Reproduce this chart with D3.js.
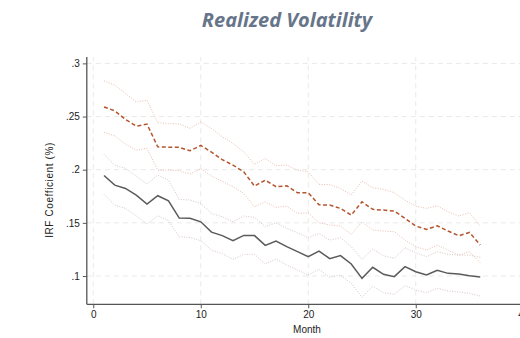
<!DOCTYPE html>
<html>
<head>
<meta charset="utf-8">
<script src="https://cdn.jsdelivr.net/npm/d3@7"></script>
<style>
  html, body { margin: 0; padding: 0; background: #fff; }
  svg { display: block; overflow: hidden; }
</style>
</head>
<body>
<div id="chart"></div>
<script>
// Meses do IRF (1..36)
const months = [1,2,3,4,5,6,7,8,9,10,11,12,13,14,15,16,17,18,19,20,21,22,23,24,25,26,27,28,29,30,31,32,33,34,35,36];

// Série principal (linha cinza sólida) e bandas
const grayMid = [0.1946,0.1855,0.1824,0.1761,0.1677,0.1755,0.1708,0.1545,0.1543,0.1510,0.1413,0.1380,0.1332,0.1382,0.1380,0.1288,0.1329,0.1276,0.1229,0.1182,0.1235,0.1163,0.1192,0.1113,0.0978,0.1082,0.1016,0.0994,0.1088,0.1040,0.1009,0.1053,0.1025,0.1020,0.1003,0.0991];
const grayUp  = [0.2144,0.2043,0.2012,0.1940,0.1865,0.1949,0.1902,0.1720,0.1715,0.1683,0.1589,0.1557,0.1510,0.1564,0.1552,0.1464,0.1501,0.1448,0.1407,0.1360,0.1401,0.1338,0.1360,0.1276,0.1157,0.1254,0.1191,0.1166,0.1266,0.1219,0.1182,0.1229,0.1204,0.1197,0.1197,0.1176];
const grayLo  = [0.1768,0.1667,0.1636,0.1567,0.1489,0.1567,0.1520,0.1369,0.1363,0.1332,0.1244,0.1210,0.1157,0.1204,0.1204,0.1113,0.1160,0.1103,0.1056,0.1009,0.1063,0.0988,0.1009,0.0931,0.0800,0.0906,0.0843,0.0828,0.0909,0.0868,0.0843,0.0884,0.0859,0.0850,0.0837,0.0812];

// Série laranja tracejada e bandas
const orgMid = [0.2590,0.2554,0.2473,0.2410,0.2429,0.2215,0.2212,0.2210,0.2178,0.2228,0.2165,0.2095,0.2043,0.1980,0.1846,0.1902,0.1840,0.1849,0.1783,0.1783,0.1670,0.1667,0.1636,0.1573,0.1698,0.1627,0.1620,0.1611,0.1542,0.1470,0.1439,0.1473,0.1423,0.1379,0.1410,0.1291];
const orgUp  = [0.2836,0.2795,0.2717,0.2638,0.2654,0.2441,0.2435,0.2430,0.2388,0.2450,0.2388,0.2310,0.2247,0.2168,0.2050,0.2106,0.2037,0.2043,0.1996,0.1980,0.1862,0.1860,0.1824,0.1761,0.1893,0.1830,0.1815,0.1783,0.1714,0.1658,0.1636,0.1661,0.1605,0.1564,0.1595,0.1470];
const orgLo  = [0.2350,0.2319,0.2240,0.2184,0.2200,0.1996,0.1996,0.1990,0.1959,0.2009,0.1940,0.1890,0.1840,0.1777,0.1651,0.1698,0.1645,0.1658,0.1589,0.1593,0.1501,0.1480,0.1470,0.1392,0.1510,0.1432,0.1423,0.1417,0.1338,0.1276,0.1244,0.1291,0.1244,0.1197,0.1229,0.1125];

// Ticks
const yTicks = [0.1, 0.15, 0.2, 0.25, 0.3];
const yTickLabels = ['.1', '.15', '.2', '.25', '.3'];
const xTicks = [0, 10, 20, 30, 40];

const W = 520, H = 338;

const svg = d3.select('#chart').append('svg')
  .attr('width', W)
  .attr('height', H);

// Escalas (o eixo x continua além da janela, como no original)
const x = d3.scaleLinear().domain([-0.6, 40.6]).range([86.8, 529.7]);
const y = d3.scaleLinear().domain([0.0734, 0.306]).range([304.3, 57]);

// Título
svg.append('text')
  .attr('x', 287)
  .attr('y', 27)
  .attr('text-anchor', 'middle')
  .style('font-family', '"Open Sans", Lato, sans-serif')
  .style('font-weight', 'bold')
  .style('font-style', 'italic')
  .style('font-size', '20px')
  .style('fill', '#67758a')
  .text('Realized Volatility');

// Grade tracejada
const grid = svg.append('g').attr('class', 'grid');
grid.selectAll('.hgrid')
  .data(yTicks)
  .enter().append('line')
  .attr('x1', x.range()[0]).attr('x2', x.range()[1])
  .attr('y1', d => y(d)).attr('y2', d => y(d))
  .attr('stroke', '#e9e9e9')
  .attr('stroke-width', 1)
  .attr('stroke-dasharray', '5,4');
grid.selectAll('.vgrid')
  .data(xTicks)
  .enter().append('line')
  .attr('x1', d => x(d)).attr('x2', d => x(d))
  .attr('y1', y.range()[0]).attr('y2', y.range()[1])
  .attr('stroke', '#e9e9e9')
  .attr('stroke-width', 1)
  .attr('stroke-dasharray', '5,4');

// Linhas
const line = values => d3.line()
  .x((d, i) => x(months[i]))
  .y(d => y(d))(values);

const bands = [
  { v: orgUp, color: '#e9bfae' },
  { v: orgLo, color: '#e9bfae' },
  { v: grayUp, color: '#d6c6c6' },
  { v: grayLo, color: '#d6c6c6' }
];
svg.selectAll('.band')
  .data(bands)
  .enter().append('path')
  .attr('class', 'band')
  .attr('d', d => line(d.v))
  .attr('fill', 'none')
  .attr('stroke', d => d.color)
  .attr('stroke-width', 1)
  .attr('stroke-dasharray', '1,1.5');

svg.append('path')
  .attr('d', line(grayMid))
  .attr('fill', 'none')
  .attr('stroke', '#5a5a5a')
  .attr('stroke-width', 1.5);

svg.append('path')
  .attr('d', line(orgMid))
  .attr('fill', 'none')
  .attr('stroke', '#b4552e')
  .attr('stroke-width', 1.5)
  .attr('stroke-dasharray', '4,2.5');

// Eixos
const axisFont = 'Liberation Sans, Arial, sans-serif';

const yAxis = svg.append('g')
  .attr('transform', `translate(${x.range()[0]},0)`)
  .call(d3.axisLeft(y).tickValues(yTicks).tickFormat((d, i) => yTickLabels[i]).tickSize(4).tickPadding(3));
yAxis.select('.domain').attr('stroke', '#555').attr('stroke-width', 1.3).attr('d', `M0,${y.range()[0]}V${y.range()[1]}`);
yAxis.selectAll('.tick line').attr('stroke', '#555');
yAxis.selectAll('text').style('font-family', axisFont).style('font-size', '10px').style('fill', '#222');

const xAxis = svg.append('g')
  .attr('transform', `translate(0,${y.range()[0]})`)
  .call(d3.axisBottom(x).tickValues(xTicks).tickFormat(d3.format('d')).tickSize(4).tickPadding(3));
xAxis.select('.domain').attr('stroke', '#555').attr('stroke-width', 1.3).attr('d', `M${x.range()[0]},0H${x.range()[1]}`);
xAxis.selectAll('.tick line').attr('stroke', '#555');
xAxis.selectAll('text').style('font-family', axisFont).style('font-size', '10px').style('fill', '#222');

// Rótulos dos eixos
svg.append('text')
  .attr('x', 307)
  .attr('y', 333)
  .attr('text-anchor', 'middle')
  .style('font-family', axisFont)
  .style('font-size', '10px')
  .style('fill', '#222')
  .text('Month');

svg.append('text')
  .attr('transform', 'rotate(-90)')
  .attr('x', -190)
  .attr('y', 53)
  .attr('text-anchor', 'middle')
  .style('font-family', axisFont)
  .style('font-size', '10px')
  .style('letter-spacing', '0.6px')
  .style('fill', '#222')
  .text('IRF Coefficient (%)');
</script>
</body>
</html>
